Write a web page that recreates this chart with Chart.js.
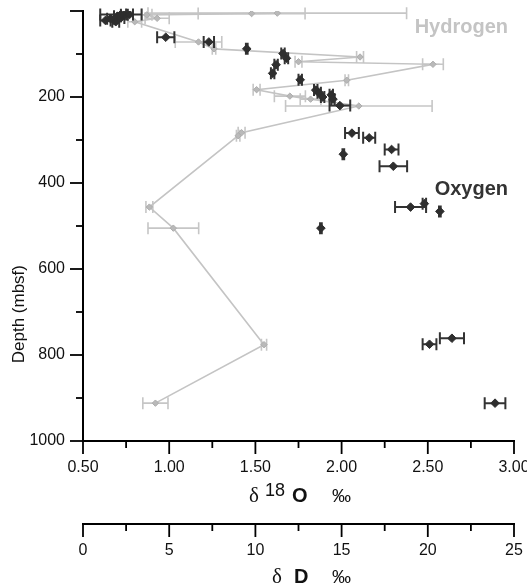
<!DOCTYPE html>
<html>
<head>
<meta charset="utf-8">
<script src="https://cdn.jsdelivr.net/npm/chart.js@4"></script>
<style>
  body { margin: 0; background: #fff; }
  #wrap { width: 527px; height: 586px; }
</style>
</head>
<body>
<div id="wrap"><canvas id="myChart"></canvas></div>
<script>
// d18O (per mil), depth (mbsf) and half-width of the error bar
var oxygenDelta = [0.63, 0.66, 0.69, 0.70, 0.72, 0.74, 0.77, 0.72,
                   0.98, 1.23, 1.45, 1.66, 1.68, 1.62, 1.60, 1.76,
                   1.85, 1.87, 1.89, 1.94, 1.95, 1.99,
                   2.06, 2.16, 2.01, 2.29, 2.30,
                   2.40, 2.48, 2.57, 1.88,
                   2.51, 2.64, 2.89];
var oxygenDepth = [22, 18, 25, 12, 16, 9, 8, 8,
                   61, 72, 88, 99, 110, 125, 145, 160,
                   184, 190, 200, 195, 205, 220,
                   284, 295, 333, 322, 361,
                   456, 448, 466, 505,
                   775, 761, 912];
var oxygenErr = [0.03, 0.02, 0.02, 0.02, 0.02, 0.02, 0.02, 0.12,
                 0.05, 0.03, 0.005, 0.01, 0.01, 0.01, 0.01, 0.01,
                 0.01, 0.01, 0.01, 0.01, 0.01, 0.06,
                 0.04, 0.035, 0.005, 0.04, 0.08,
                 0.09, 0.01, 0.005, 0.005,
                 0.04, 0.07, 0.06];

// dD (per mil), joined in depth order
var hydrogenDelta = [9.78, 11.27, 3.7, 4.3, 3.0, 6.7, 7.6, 16.07, 12.5, 20.3,
                     15.3, 10.07, 12.0, 13.2, 16.0, 9.2, 9.0, 3.85, 5.24, 10.5, 4.2];
var hydrogenDepth = [6, 5, 9, 17, 25, 72, 88, 107, 118, 124,
                     161, 183, 198, 205, 221, 283, 290, 456, 505, 776, 912];
var hydrogenErr = [3.1, 7.5, 0.3, 0.7, 0.4, 1.35, 0.1, 0.2, 0.2, 0.6,
                   0.1, 0.2, 0.9, 0.6, 4.25, 0.2, 0.1, 0.2, 1.47, 0.15, 0.73];

var depthLabels = [200, 400, 600, 800, 1000];
var oxygenLabels = [0.5, 1, 1.5, 2, 2.5, 3];
var hydrogenLabels = [0, 5, 10, 15, 20, 25];

function toPoints(xs, ys) {
    var pts = [];
    for (var i = 0; i < xs.length; i++) {
        pts.push({x: xs[i], y: ys[i]});
    }
    return pts;
}

function hasLabel(list, v) {
    for (var i = 0; i < list.length; i++) {
        if (Math.abs(list[i] - v) < 1e-6) return true;
    }
    return false;
}

Chart.defaults.font.family = '"Liberation Sans", Arial, sans-serif';
Chart.defaults.color = '#111';

// horizontal error bars, drawn under each dataset's markers
var errorBars = {
    id: 'errorBars',
    beforeDatasetDraw: function(chart, args) {
        var ds = chart.data.datasets[args.index];
        var xs = chart.scales[ds.xAxisID];
        var ys = chart.scales.y;
        var ctx = chart.ctx;
        ctx.save();
        ctx.strokeStyle = ds.errorColor;
        ctx.lineWidth = ds.errorWidth;
        for (var i = 0; i < ds.data.length; i++) {
            var p = ds.data[i];
            var e = ds.errors[i];
            var x1 = xs.getPixelForValue(p.x - e);
            var x2 = xs.getPixelForValue(p.x + e);
            var y = ys.getPixelForValue(p.y);
            ctx.beginPath();
            ctx.moveTo(x1, y); ctx.lineTo(x2, y);
            ctx.moveTo(x1, y - 6); ctx.lineTo(x1, y + 6);
            ctx.moveTo(x2, y - 6); ctx.lineTo(x2, y + 6);
            ctx.stroke();
        }
        ctx.restore();
    }
};

// long ticks at labelled values, short ones in between
var tickMarks = {
    id: 'tickMarks',
    afterDraw: function(chart) {
        var ctx = chart.ctx;
        ctx.save();
        ctx.strokeStyle = '#000';
        ctx.lineWidth = 1.8;
        ['x', 'x2', 'y'].forEach(function(id) {
            var s = chart.scales[id];
            s.ticks.forEach(function(t) {
                var major = t.label !== '' || (id === 'y' && t.value === 0);
                var len = major ? 13 : 7;
                var p = s.getPixelForValue(t.value);
                ctx.beginPath();
                if (id === 'y') {
                    ctx.moveTo(s.right, p); ctx.lineTo(s.right - len, p);
                } else {
                    ctx.moveTo(p, s.top); ctx.lineTo(p, s.top + len);
                }
                ctx.stroke();
            });
        });
        ctx.restore();
    }
};

// axis titles with mixed fonts and the series names
var titles = {
    id: 'titles',
    afterDraw: function(chart) {
        var ctx = chart.ctx;
        var a = chart.chartArea;
        var sx = chart.scales.x, sx2 = chart.scales.x2, sy = chart.scales.y;
        var sans = '"Liberation Sans", Arial, sans-serif';
        var serif = '"Liberation Serif", "Times New Roman", serif';
        ctx.save();
        ctx.fillStyle = '#111';
        ctx.textAlign = 'left';
        ctx.textBaseline = 'alphabetic';

        var b = sx.top + 61;
        ctx.font = '21px ' + serif;
        ctx.fillText('\u03b4', a.left + 166, b);
        ctx.font = '18px ' + sans;
        ctx.fillText('18', a.left + 182, b - 6);
        ctx.font = 'bold 20px ' + sans;
        ctx.fillText('O', a.left + 209, b);
        ctx.font = '19px ' + sans;
        ctx.fillText('\u2030', a.left + 249, b);

        b = sx2.top + 59;
        ctx.font = '21px ' + serif;
        ctx.fillText('\u03b4', a.left + 189, b);
        ctx.font = 'bold 20px ' + sans;
        ctx.fillText('D', a.left + 211, b);
        ctx.font = '19px ' + sans;
        ctx.fillText('\u2030', a.left + 249, b);

        ctx.save();
        ctx.translate(19, sy.getPixelForValue(705));
        ctx.rotate(-Math.PI / 2);
        ctx.textAlign = 'center';
        ctx.textBaseline = 'middle';
        ctx.font = '17px ' + sans;
        ctx.fillText('Depth (mbsf)', 0, 0);
        ctx.restore();

        ctx.textAlign = 'right';
        ctx.font = 'bold 20px ' + sans;
        ctx.fillStyle = '#c4c4c4';
        ctx.fillText('Hydrogen', a.right - 6, sy.getPixelForValue(50));
        ctx.fillStyle = '#333';
        ctx.fillText('Oxygen', a.right - 6, sy.getPixelForValue(427));
        ctx.restore();
    }
};

var ctx = document.getElementById('myChart').getContext('2d');
var chart = new Chart(ctx, {
    type: 'scatter',
    data: {
        datasets: [{
            label: 'Oxygen',
            data: toPoints(oxygenDelta, oxygenDepth),
            errors: oxygenErr,
            errorColor: '#333',
            errorWidth: 2,
            xAxisID: 'x',
            yAxisID: 'y',
            pointStyle: 'rectRot',
            pointRadius: 4.3,
            pointBackgroundColor: '#2e2e2e',
            pointBorderColor: '#2e2e2e',
            pointBorderWidth: 1,
            showLine: false,
            order: 0
        }, {
            label: 'Hydrogen',
            data: toPoints(hydrogenDelta, hydrogenDepth),
            errors: hydrogenErr,
            errorColor: '#c6c6c6',
            errorWidth: 1.6,
            xAxisID: 'x2',
            yAxisID: 'y',
            pointStyle: 'rectRot',
            pointRadius: 3.2,
            pointBackgroundColor: '#b9b9b9',
            pointBorderColor: '#adadad',
            pointBorderWidth: 1,
            showLine: true,
            borderColor: '#c4c4c4',
            borderWidth: 1.6,
            tension: 0,
            order: 1
        }]
    },
    options: {
        responsive: true,
        maintainAspectRatio: false,
        animation: false,
        events: [],
        layout: {
            padding: { top: 11, right: 13, left: 0, bottom: 0 }
        },
        plugins: {
            legend: { display: false },
            tooltip: { enabled: false }
        },
        scales: {
            y: {
                type: 'linear',
                position: 'left',
                reverse: true,
                min: 0,
                max: 1000,
                grid: { display: false, tickLength: 13 },
                border: { display: true, color: '#000', width: 2 },
                ticks: {
                    stepSize: 100,
                    padding: 5,
                    autoSkip: false,
                    font: { size: 16 },
                    color: '#111',
                    callback: function(v) { return hasLabel(depthLabels, v) ? String(v) : ''; }
                },
                afterFit: function(s) { s.width = 83; s.paddingTop = 0; s.paddingBottom = 0; }
            },
            x: {
                type: 'linear',
                position: 'bottom',
                weight: 0,
                min: 0.5,
                max: 3.0,
                grid: { display: false, tickLength: 13 },
                border: { display: true, color: '#000', width: 2 },
                ticks: {
                    stepSize: 0.25,
                    padding: 4,
                    autoSkip: false,
                    maxRotation: 0,
                    font: { size: 16 },
                    color: '#111',
                    callback: function(v) { return hasLabel(oxygenLabels, v) ? v.toFixed(2) : ''; }
                },
                afterFit: function(s) { s.height = 83; s.paddingLeft = 0; s.paddingRight = 0; }
            },
            x2: {
                type: 'linear',
                position: 'bottom',
                weight: 1,
                min: 0,
                max: 25,
                grid: { display: false, tickLength: 13 },
                border: { display: true, color: '#000', width: 2 },
                ticks: {
                    stepSize: 2.5,
                    padding: 4,
                    autoSkip: false,
                    maxRotation: 0,
                    font: { size: 16 },
                    color: '#111',
                    callback: function(v) { return hasLabel(hydrogenLabels, v) ? String(v) : ''; }
                },
                afterFit: function(s) { s.height = 62; s.paddingLeft = 0; s.paddingRight = 0; }
            }
        }
    },
    plugins: [errorBars, tickMarks, titles]
});
</script>
</body>
</html>
